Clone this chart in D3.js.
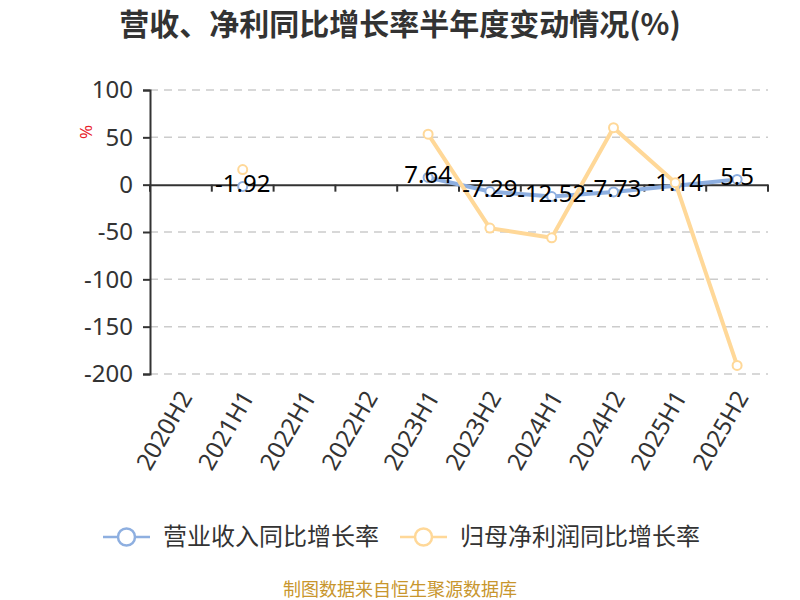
<!DOCTYPE html>
<html>
<head>
<meta charset="utf-8">
<script src="https://cdn.jsdelivr.net/npm/d3@7"></script>
<style>
  body { margin: 0; background: #fff; }
  text { font-family: "Noto Sans", "Noto Sans CJK SC", sans-serif; }
</style>
</head>
<body>
<div id="chart"></div>
<script>
var periods = ["2020H2", "2021H1", "2022H1", "2022H2", "2023H1", "2023H2", "2024H1", "2024H2", "2025H1", "2025H2"];
var revenueGrowth = [null, -1.92, null, null, 7.64, -7.29, -12.52, -7.73, -1.14, 5.5];
var profitGrowth = [null, 16, null, null, 53.3, -45.9, -56.1, 60.2, 2.1, -191];
var yTicks = [100, 50, 0, -50, -100, -150, -200];
var seriesNames = ["营业收入同比增长率", "归母净利润同比增长率"];

var width = 800,
  height = 600
var blue = "#8eafe0",
  orange = "#ffd898"

var svg = d3
  .select("#chart")
  .append("svg")
  .attr("width", width)
  .attr("height", height)

var x = d3.scaleBand().domain(periods).range([150, 768])
var y = d3.scaleLinear().domain([-200, 100]).range([374, 90])

// title
svg.append("text")
  .attr("x", 400)
  .attr("y", 35)
  .attr("text-anchor", "middle")
  .style("font-family", "'Noto Sans CJK SC', sans-serif")
  .style("font-size", "30px")
  .style("font-weight", "bold")
  .attr("fill", "#333")
  .text("营收、净利同比增长率半年度变动情况(%)")

// grid
svg.append("g")
  .selectAll("line")
  .data(yTicks.filter(d => d !== 0))
  .enter()
  .append("line")
  .attr("x1", 150)
  .attr("x2", 768)
  .attr("y1", d => y(d))
  .attr("y2", d => y(d))
  .attr("stroke", "#cccccc")
  .attr("stroke-width", 1.5)
  .attr("stroke-dasharray", "8,6")

// y axis
var yAxis = svg.append("g")
  .attr("transform", "translate(150,0)")
  .call(d3.axisLeft(y).tickValues(yTicks).tickSize(7).tickPadding(10).tickFormat(d => String(d)))
yAxis.select(".domain").attr("stroke", "#333").attr("stroke-width", 2)
yAxis.selectAll(".tick line").attr("stroke", "#333").attr("stroke-width", 2)
yAxis.selectAll(".tick text")
  .attr("fill", "#333")
  .style("font-size", "24px")
  .style("font-family", "Noto Sans")

svg.append("text")
  .attr("transform", "translate(92,132) rotate(-90)")
  .attr("text-anchor", "middle")
  .attr("fill", "#e8222a")
  .style("font-size", "17px")
  .text("%")

// x axis at zero
var xAxis = svg.append("g")
  .attr("transform", "translate(0," + y(0) + ")")
  .call(d3.axisBottom(x).tickSize(0).tickFormat(""))
xAxis.select(".domain").attr("stroke", "#333").attr("stroke-width", 2)
svg.append("g")
  .selectAll("line")
  .data(periods.concat(["end"]))
  .enter()
  .append("line")
  .attr("x1", (d, i) => i < periods.length ? x(d) : x.range()[1])
  .attr("x2", (d, i) => i < periods.length ? x(d) : x.range()[1])
  .attr("y1", y(0))
  .attr("y2", y(0) + 7)
  .attr("stroke", "#333")
  .attr("stroke-width", 2)

svg.append("g")
  .selectAll("text")
  .data(periods)
  .enter()
  .append("text")
  .attr("transform", d => "translate(" + (x(d) + x.bandwidth() / 2 + 5) + ",393) rotate(-60)")
  .attr("text-anchor", "end")
  .attr("dy", "0.35em")
  .attr("fill", "#333")
  .style("font-size", "24px")
  .text(d => d)

// lines
var cx = (d, i) => x(periods[i]) + x.bandwidth() / 2
var line = d3.line()
  .defined(d => d !== null)
  .x(cx)
  .y(d => y(d))

function drawSeries(values, color) {
  svg.append("path")
    .datum(values)
    .attr("d", line)
    .attr("fill", "none")
    .attr("stroke", color)
    .attr("stroke-width", 4)
  svg.append("g")
    .selectAll("circle")
    .data(values.map((v, i) => ({ v: v, i: i })).filter(d => d.v !== null))
    .enter()
    .append("circle")
    .attr("cx", d => cx(d.v, d.i))
    .attr("cy", d => y(d.v))
    .attr("r", 4.5)
    .attr("fill", "#fff")
    .attr("stroke", color)
    .attr("stroke-width", 2)
}
drawSeries(revenueGrowth, blue)
drawSeries(profitGrowth, orange)

// labels on revenue
svg.append("g")
  .selectAll("text")
  .data(revenueGrowth.map((v, i) => ({ v: v, i: i })).filter(d => d.v !== null))
  .enter()
  .append("text")
  .attr("x", d => cx(d.v, d.i))
  .attr("y", d => y(d.v) - 3)
  .attr("dy", "0.35em")
  .attr("text-anchor", "middle")
  .attr("fill", "#000")
  .style("font-size", "24px")
  .text(d => d.v)

// legend
var legend = svg.append("g")
var legendX = [103, 400]
var colors = [blue, orange]
seriesNames.forEach(function (name, i) {
  var g = legend.append("g").attr("transform", "translate(" + legendX[i] + ",537)")
  g.append("line").attr("x1", 0).attr("x2", 47).attr("stroke", colors[i]).attr("stroke-width", 2.5)
  g.append("circle").attr("cx", 23.5).attr("r", 8.5).attr("fill", "#fff").attr("stroke", colors[i]).attr("stroke-width", 2.5)
  g.append("text")
    .attr("x", 60)
    .attr("dy", "0.35em")
    .attr("fill", "#333")
    .style("font-family", "'Noto Sans CJK SC', sans-serif")
    .style("font-size", "24px")
    .text(name)
})

svg.append("text")
  .attr("x", 400)
  .attr("y", 596)
  .attr("text-anchor", "middle")
  .attr("fill", "#c8962d")
  .style("font-family", "'Noto Sans CJK SC', sans-serif")
  .style("font-size", "18px")
  .text("制图数据来自恒生聚源数据库")
</script>
</body>
</html>
